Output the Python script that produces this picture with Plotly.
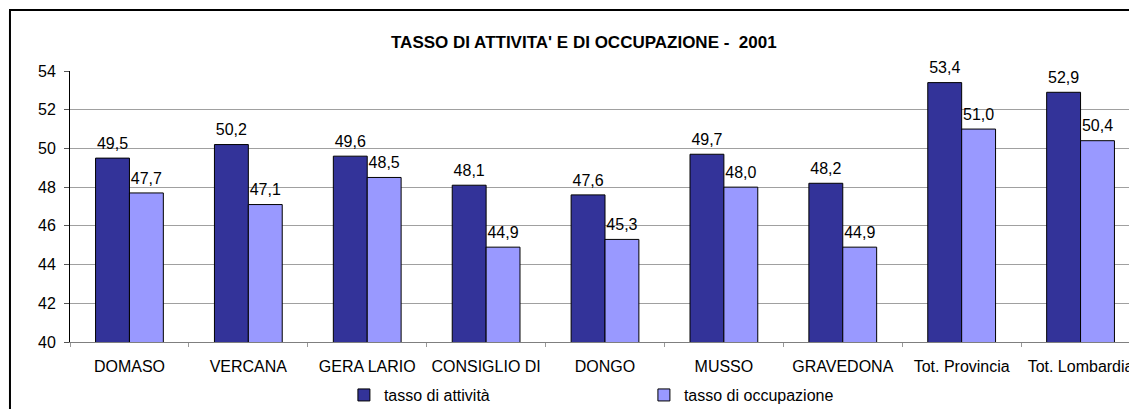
import plotly.graph_objects as go

categories = ["DOMASO", "VERCANA", "GERA LARIO", "CONSIGLIO DI<br>DONGO", "DONGO",
              "MUSSO", "GRAVEDONA", "Tot. Provincia", "Tot. Lombardia"]
attivita = [49.5, 50.2, 49.6, 48.1, 47.6, 49.7, 48.2, 53.4, 52.9]
occupazione = [47.7, 47.1, 48.5, 44.9, 45.3, 48.0, 44.9, 51.0, 50.4]
y_ticks = [40, 42, 44, 46, 48, 50, 52, 54]

FONT = "Arial, Liberation Sans, sans-serif"

def fmt(v):
    return f"{v:.1f}".replace(".", ",")

series = [("tasso di attività", attivita, "#333399", "a"),
          ("tasso di occupazione", occupazione, "#9999FF", "b")]

fig = go.Figure()
for name, vals, color, grp in series:
    fig.add_trace(go.Bar(
        x=categories, y=vals, name=name, offsetgroup=grp, alignmentgroup="g",
        marker=dict(color=color, line=dict(color="black", width=1)),
    ))
for name, vals, color, grp in series:
    fig.add_trace(go.Scatter(
        x=categories, y=vals, mode="markers+text", offsetgroup=grp, alignmentgroup="g",
        marker=dict(size=7, opacity=0), showlegend=False, hoverinfo="skip",
        text=[fmt(v) for v in vals], textposition="top center",
        textfont=dict(family=FONT, size=16, color="black"), cliponaxis=False,
    ))

fig.update_layout(
    width=1137, height=409,
    margin=dict(l=62, r=5, t=63, b=75),
    paper_bgcolor="white", plot_bgcolor="white",
    font=dict(family=FONT, size=16, color="black"),
    barmode="group", bargap=0.43, bargroupgap=0,
    scattermode="group", scattergap=0.43,
    showlegend=True,
    legend=dict(orientation="h", x=0.256, xanchor="left", y=-0.133, yanchor="top",
                bgcolor="white", font=dict(size=16),
                entrywidth=255, entrywidthmode="pixels", itemwidth=30,
                tracegroupgap=0),
    xaxis=dict(showline=True, linecolor="#7f7f7f", linewidth=1,
               ticks="outside", tickson="boundaries", ticklen=4, tickcolor="#999999",
               ticklabelstandoff=10,
               tickfont=dict(size=16), showgrid=False),
    yaxis=dict(range=[40, 54], tickvals=y_ticks, showline=True, linecolor="black",
               linewidth=1, ticks="outside", ticklen=5, tickcolor="#555555",
               ticklabelstandoff=5,
               showgrid=True, gridcolor="#a0a0a0", gridwidth=1,
               tickfont=dict(size=16), zeroline=False),
    annotations=[dict(text="<b>TASSO DI ATTIVITA' E DI OCCUPAZIONE -  2001</b>",
                      xref="paper", yref="paper", x=0.4804, y=1.105, xanchor="center",
                      yanchor="middle", showarrow=False, font=dict(size=17))],
    shapes=[dict(type="rect", xref="paper", yref="paper",
                 x0=-0.0561, x1=1.03, y0=-0.4, y1=1.225,
                 line=dict(color="black", width=2), fillcolor="rgba(0,0,0,0)",
                 layer="above")],
)

fig.write_html("out.html")
